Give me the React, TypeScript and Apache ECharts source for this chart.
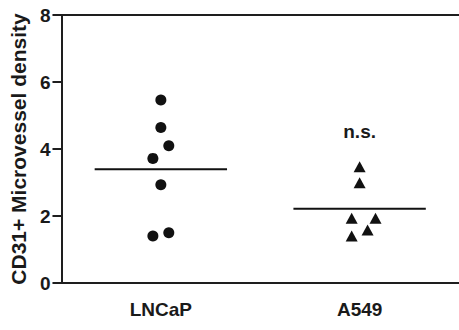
import React, { useEffect, useRef } from "react";
import * as echarts from "echarts";

const categories = ["LNCaP", "A549"];
const yTicks = [0, 2, 4, 6, 8];
const lncapValues = [5.46, 4.64, 4.1, 3.72, 2.93, 1.4, 1.5];
const lncapJitter = [0, 0, 0.04, -0.04, 0, -0.04, 0.04];
const a549Values = [3.47, 2.99, 1.93, 1.93, 1.58, 1.4];
const a549Jitter = [0, 0, -0.04, 0.08, 0.04, -0.04];
const annotationText = "n.s.";
const annotationValue = 4.52;

const mean = (a: number[]) => a.reduce((s, v) => s + v, 0) / a.length;

export default function App() {
  const ref = useRef<HTMLDivElement>(null);
  useEffect(() => {
    if (!ref.current) return;
    const chart = echarts.init(ref.current, null, { renderer: "svg" });
    const font = "Liberation Sans, Arial, sans-serif";
    const axisColor = "#1e1e1e";
    const textColor = "#1a1a1a";
    const half = 0.333;
    const lm = mean(lncapValues);
    const am = mean(a549Values);
    chart.setOption({
      animation: false,
      backgroundColor: "#ffffff",
      grid: { left: 60, top: 15, bottom: 47, width: 401 },
      xAxis: [
        {
          type: "category",
          data: categories,
          position: "bottom",
          axisLine: { onZero: false, lineStyle: { color: axisColor, width: 2 } },
          axisTick: { alignWithLabel: true, length: 8, lineStyle: { color: axisColor, width: 2 } },
          axisLabel: { color: textColor, fontFamily: font, fontWeight: "bold", fontSize: 19, margin: 17 },
        },
        {
          type: "value",
          min: -0.5,
          max: 1.5,
          position: "top",
          axisLine: { show: true, onZero: false, lineStyle: { color: axisColor, width: 2 } },
          axisTick: { show: false },
          axisLabel: { show: false },
          splitLine: { show: false },
        },
      ],
      yAxis: {
        type: "value",
        min: 0,
        max: 8,
        interval: 2,
        name: "CD31+ Microvessel density",
        nameLocation: "middle",
        nameGap: 31,
        nameTextStyle: { color: textColor, fontFamily: font, fontWeight: "bold", fontSize: 21 },
        axisLine: { show: true, onZero: false, lineStyle: { color: axisColor, width: 2 } },
        axisTick: { show: true, length: 9, lineStyle: { color: axisColor, width: 2 } },
        axisLabel: { color: textColor, fontFamily: font, fontWeight: "bold", fontSize: 19, margin: 11,
          customValues: yTicks },
        splitLine: { show: false },
      },
      series: [
        {
          type: "scatter",
          xAxisIndex: 1,
          symbol: "circle",
          symbolSize: 11,
          itemStyle: { color: "#111", opacity: 1 },
          data: lncapValues.map((v, i) => [0 + lncapJitter[i], v]),
        },
        {
          type: "scatter",
          xAxisIndex: 1,
          symbol: "triangle",
          symbolSize: [12, 11],
          itemStyle: { color: "#111", opacity: 1 },
          data: a549Values.map((v, i) => [1 + a549Jitter[i], v]),
        },
        {
          type: "line",
          xAxisIndex: 1,
          symbol: "none",
          lineStyle: { color: "#111", width: 2 },
          data: [[0 - half, lm], [0 + half, lm]],
        },
        {
          type: "line",
          xAxisIndex: 1,
          symbol: "none",
          lineStyle: { color: "#111", width: 2 },
          data: [[1 - half, am], [1 + half, am]],
        },
        {
          type: "scatter",
          xAxisIndex: 1,
          symbolSize: 0,
          itemStyle: { opacity: 1 },
          label: {
            show: true,
            position: "inside",
            formatter: annotationText,
            color: textColor,
            fontFamily: font,
            fontWeight: "bold",
            fontSize: 19,
          },
          data: [[1, annotationValue]],
        },
      ],
    });
    return () => chart.dispose();
  }, []);
  return (
    <div
      ref={ref}
      style={{ position: "fixed", left: 0, top: 0, width: 459, height: 330 }}
    />
  );
}
